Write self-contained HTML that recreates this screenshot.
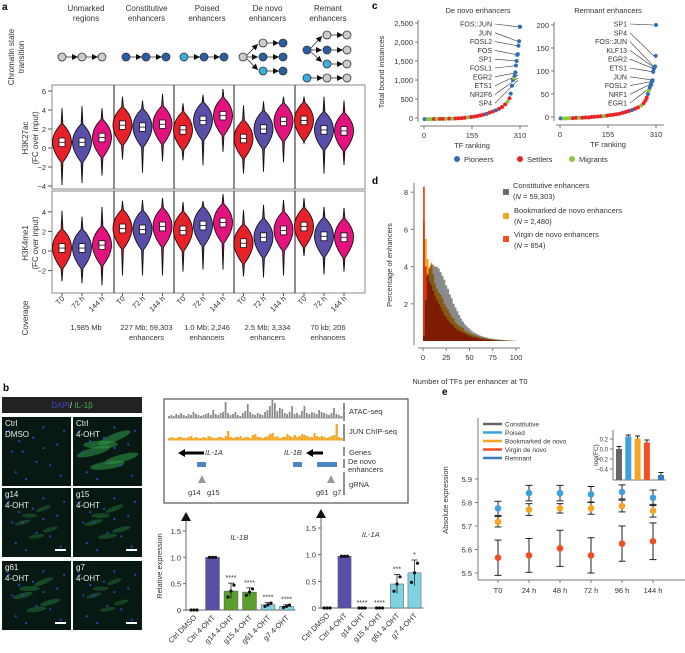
<!DOCTYPE html>
<html><head><meta charset="utf-8"><style>
body{margin:0;background:#fff}
svg{display:block;font-family:"Liberation Sans",Arial,sans-serif}
text{fill:#333}
</style></head><body>
<svg id="s" width="685" height="653" viewBox="0 0 685 653" xmlns="http://www.w3.org/2000/svg">
<g>
<text x="2" y="10" font-weight="bold" font-size="10" style="fill:#000">a</text>
<text transform="translate(14,57) rotate(-90)" text-anchor="middle" font-size="8">Chromatin state</text>
<text transform="translate(24,57) rotate(-90)" text-anchor="middle" font-size="8">transition</text>
<text transform="translate(28,138) rotate(-90)" text-anchor="middle" font-size="8">H3K27ac</text>
<text transform="translate(38,138) rotate(-90)" text-anchor="middle" font-size="8">(FC over input)</text>
<text transform="translate(28,243) rotate(-90)" text-anchor="middle" font-size="8">H3K4me1</text>
<text transform="translate(38,243) rotate(-90)" text-anchor="middle" font-size="8">(FC over input)</text>
<text transform="translate(28,318) rotate(-90)" font-size="8" text-anchor="middle">Coverage</text>
<g id="aHead" font-size="8" text-anchor="middle"></g>
<g id="aDiag"></g>
<rect x="52" y="85" width="313" height="104" fill="none" stroke="#888" stroke-width="1"/>
<rect x="52" y="191" width="313" height="102" fill="none" stroke="#888" stroke-width="1"/>
<g id="aSep" stroke="#444" stroke-width="1.2"></g>
<g id="aTicks" font-size="7.5" text-anchor="end"></g>
<g id="aViol"></g>
<g id="aXlab" font-size="7.5" text-anchor="end"></g>
<g id="aCov" font-size="7.5" text-anchor="middle"></g>
</g>

<g>
<text x="372" y="9" font-weight="bold" font-size="10" style="fill:#000">c</text>
<text x="478" y="13" font-size="7.5" text-anchor="middle">De novo enhancers</text>
<text x="608" y="13" font-size="7.5" text-anchor="middle">Remnant enhancers</text>
<text transform="translate(384,72) rotate(-90)" text-anchor="middle" font-size="7.5">Total bound instances</text>
<g id="cPlot"></g>
<g font-size="7.5">
<circle cx="457" cy="159" r="3" fill="#2f6db5"/><text x="464" y="162">Pioneers</text>
<circle cx="520" cy="159" r="3" fill="#e8262a"/><text x="527" y="162">Settlers</text>
<circle cx="572" cy="159" r="3" fill="#8dc63f"/><text x="579" y="162">Migrants</text>
</g>
</g>

<g>
<text x="372" y="184" font-weight="bold" font-size="10" style="fill:#000">d</text>
<text transform="translate(392,265) rotate(-90)" text-anchor="middle" font-size="7.5">Percentage of enhancers</text>
<g id="dPlot"></g>
<text x="470" y="384" font-size="7.5" text-anchor="middle">Number of TFs per enhancer at T0</text>
<g font-size="7.5">
<rect x="503" y="189" width="6" height="6" fill="#6e6e6e"/><text x="513" y="188">Constitutive enhancers</text><text x="513" y="199">(<tspan font-style="italic">N</tspan> = 59,303)</text>
<rect x="503" y="213" width="6" height="6" fill="#f5a623"/><text x="514" y="213">Bookmarked de novo enhancers</text><text x="514" y="224">(<tspan font-style="italic">N</tspan> = 2,480)</text>
<rect x="503" y="236" width="6" height="6" fill="#f04e23"/><text x="514" y="237">Virgin de novo enhancers</text><text x="514" y="248">(<tspan font-style="italic">N</tspan> = 854)</text>
</g>
</g>

<g>
<text x="3" y="391" font-weight="bold" font-size="10" style="fill:#000">b</text>
<rect x="2" y="397" width="140" height="16" fill="#222"/>
<text x="72" y="408" font-size="8" text-anchor="middle"><tspan style="fill:#3848c8">DAPI</tspan><tspan style="fill:#ddd">/ </tspan><tspan style="fill:#3fb34f">IL-1β</tspan></text>
<g id="bImg"></g>
<rect x="164" y="399" width="244" height="104" fill="#fff" stroke="#555" stroke-width="1.2"/>
<g id="bTracks"></g>
<line x1="344" y1="403" x2="344" y2="421" stroke="#222"/><line x1="344" y1="424" x2="344" y2="441" stroke="#222"/>
<line x1="344" y1="447" x2="344" y2="456" stroke="#222"/><line x1="344" y1="459" x2="344" y2="468" stroke="#222"/><line x1="344" y1="472" x2="344" y2="495" stroke="#222"/>
<g font-size="7.5">
<text x="349" y="414">ATAC-seq</text><text x="349" y="434">JUN ChIP-seq</text><text x="349" y="455">Genes</text>
<text x="348" y="464">De novo</text><text x="348" y="472">enhancers</text><text x="349" y="487">gRNA</text>
<text x="205" y="455" font-style="italic">IL-1A</text><text x="284" y="455" font-style="italic">IL-1B</text>
<text x="188" y="495">g14</text><text x="207" y="495">g15</text><text x="316" y="495">g61</text><text x="333" y="495">g7</text>
</g>
<polygon points="178,453 185,449 185,451.5 204,451.5 204,454.5 185,454.5 185,457" fill="#000"/>
<polygon points="306,453 313,449 313,451.5 323,451.5 323,454.5 313,454.5 313,457" fill="#000"/>
<rect x="197" y="462" width="9" height="5" fill="#4a86c8"/><rect x="293" y="462" width="9" height="5" fill="#4a86c8"/><rect x="317" y="462" width="20" height="5" fill="#4a86c8"/>
<polygon points="202,475 198,483 206,483" fill="#999"/><polygon points="331,475 327,483 335,483" fill="#999"/>
<text transform="translate(162,566) rotate(-90)" text-anchor="middle" font-size="7.5">Relative expression</text>
<g id="bBars"></g>
</g>

<g>
<text x="442" y="395" font-weight="bold" font-size="10" style="fill:#000">e</text>
<text transform="translate(448,500) rotate(-90)" text-anchor="middle" font-size="7.5">Absolute expression</text>
<g id="ePlot"></g>
<g font-size="6.5">
<line x1="483" y1="424" x2="502" y2="424" stroke="#666" stroke-width="2.5"/><text x="505" y="426.5">Constitutive</text>
<line x1="483" y1="432.5" x2="502" y2="432.5" stroke="#3fa0dc" stroke-width="2.5"/><text x="505" y="435">Poised</text>
<line x1="483" y1="441" x2="502" y2="441" stroke="#f5a623" stroke-width="2.5"/><text x="505" y="443.5">Bookmarked de novo</text>
<line x1="483" y1="449.5" x2="502" y2="449.5" stroke="#f04e23" stroke-width="2.5"/><text x="505" y="452">Virgin de novo</text>
<line x1="483" y1="458" x2="502" y2="458" stroke="#3a7cc4" stroke-width="2.5"/><text x="505" y="460.5">Remnant</text>
</g>
<g id="eInset"></g>
</g>
</svg>
<script>
const NS="http://www.w3.org/2000/svg";
function mk(tag,attrs,parent,txt){const e=document.createElementNS(NS,tag);for(const k in attrs)e.setAttribute(k,attrs[k]);if(txt!==undefined)e.textContent=txt;parent.appendChild(e);return e;}
const $=id=>document.getElementById(id);

// ---------- panel a data ----------
const aGroups=[["Unmarked","regions"],["Constitutive","enhancers"],["Poised","enhancers"],["De novo","enhancers"],["Remant","enhancers"]];
const aTimes=["T0","72 h","144 h"];
const ac_med=[[0.6,0.6,1.1],[2.4,2.2,2.5],[1.9,2.9,3.4],[1.0,2.0,2.8],[2.9,1.9,1.8]];
const ac_min=[[-3.9,-3.7,-2.9],[-1.2,-2.6,-1.4],[-1.3,-1.8,-0.4],[-2.7,-2.5,-1.5],[0.5,-2.7,-1.8]];
const ac_max=[[4.2,4.4,4.2],[5.4,5.0,5.7],[4.7,5.6,6.2],[4.5,4.9,5.4],[5.4,5.4,5.0]];
const me_med=[[0.3,0.3,0.6],[2.3,2.2,2.5],[2.1,2.6,2.9],[0.8,1.4,2.1],[2.5,1.5,1.4]];
const me_min=[[-3.1,-3.3,-3.5],[-2.5,-2.5,-2.5],[-2.1,-1.9,-1.9],[-2.6,-2.7,-2.5],[-0.5,-2.4,-2.1]];
const me_max=[[4.1,3.5,4.5],[5.1,5.2,5.4],[5.0,5.1,5.8],[4.2,4.7,5.2],[5.4,4.5,4.4]];
const aCov=[["1,985 Mb",""],["227 Mb; 59,303","enhancers"],["1.0 Mb; 2,246","enhancers"],["2.5 Mb; 3,334","enhancers"],["70 kb; 206","enhancers"]];
const acTicks=[-4,-2,0,2,4,6], meTicks=[-2,0,2,4];
const vColors=["#e8202a","#5a4fa8","#e4127f"];

const grpX=g=>82+g*60.5, subX=(g,t)=>grpX(g)+(t-1)*20;
const yAc=v=>148-v*9.5, yMe=v=>251-v*9.8;

aGroups.forEach((w,i)=>{
 let t=mk("text",{x:grpX(i)+4,y:11},$("aHead"),w[0]);
 
 mk("text",{x:grpX(i)+4,y:21},$("aHead"),w[1]);
 mk("text",{x:grpX(i)+4,y:330},$("aCov"),aCov[i][0]);mk("text",{x:grpX(i)+4,y:340},$("aCov"),aCov[i][1]);
});
[114,174,234,295].forEach(x=>{mk("line",{x1:x,y1:85,x2:x,y2:189},$("aSep"));mk("line",{x1:x,y1:191,x2:x,y2:293},$("aSep"));});
acTicks.forEach(v=>{mk("text",{x:46,y:yAc(v)+3},$("aTicks"),v<0?"−"+(-v):v);mk("line",{x1:48,x2:52,y1:yAc(v),y2:yAc(v),stroke:"#555"},$("aTicks"));});
meTicks.forEach(v=>{mk("text",{x:46,y:yMe(v)+3},$("aTicks"),v<0?"−"+(-v):v);mk("line",{x1:48,x2:52,y1:yMe(v),y2:yMe(v),stroke:"#555"},$("aTicks"));});

// diagrams
const gray="#ccc",dk="#2a5fa8",lb="#3aaee0";
function circ(x,y,c){mk("circle",{cx:x,cy:y,r:4,fill:c,stroke:"#333","stroke-width":0.8},$("aDiag"));}
function arr(x1,y1,x2,y2){mk("line",{x1,y1,x2,y2,stroke:"#333","stroke-width":0.8},$("aDiag"));const a=Math.atan2(y2-y1,x2-x1);mk("polygon",{points:`${x2},${y2} ${x2-6*Math.cos(a)+3*Math.sin(a)},${y2-6*Math.sin(a)-3*Math.cos(a)} ${x2-6*Math.cos(a)-3*Math.sin(a)},${y2-6*Math.sin(a)+3*Math.cos(a)}`,fill:"#111"},$("aDiag"));}
function chain(x,y,cs){cs.forEach((c,k)=>{if(k)arr(x+(k-1)*20+4,y,x+k*20-4,y);circ(x+k*20,y,c);});}
chain(62,57,[gray,gray,gray]);chain(126,57,[dk,dk,dk]);chain(184,57,[lb,dk,dk]);
circ(243,57,gray);arr(247,55,258,44);arr(247,57,258,57);arr(247,59,258,70);
chain(263,43,[gray,dk]);chain(263,57,[dk,dk]);chain(263,71,[lb,dk]);
circ(307,50,dk);arr(311,48,322,36);arr(311,50,322,50);arr(311,52,322,62);
chain(327,35,[gray,gray]);chain(327,50,[dk,gray]);chain(327,64,[lb,gray]);chain(307,78,[lb,gray,gray]);

function violin(cx,med,mn,mx,ys,col){
 const w=9.5;const p=`M${cx},${ys(mx)} L${cx+0.9},${ys(med+1.9)} Q${cx+w},${ys(med+1.0)} ${cx+w},${ys(med)} Q${cx+w},${ys(med-0.9)} ${cx+0.9},${ys(med-2.1)} L${cx},${ys(mn)} L${cx-0.9},${ys(med-2.1)} Q${cx-w},${ys(med-0.9)} ${cx-w},${ys(med)} Q${cx-w},${ys(med+1.0)} ${cx-0.9},${ys(med+1.9)} Z`;
 const v=mk("path",{d:p,fill:col,stroke:"#111","stroke-width":0.9},$("aViol"));
 
 mk("rect",{x:cx-3,y:ys(med+0.45),width:6,height:ys(med-0.45)-ys(med+0.45),fill:"#fff",stroke:"#111","stroke-width":0.8},$("aViol"));
 mk("line",{x1:cx-3,x2:cx+3,y1:ys(med),y2:ys(med),stroke:"#111","stroke-width":0.8},$("aViol"));
}
for(let g=0;g<5;g++)for(let t=0;t<3;t++){
 violin(subX(g,t),ac_med[g][t],ac_min[g][t],ac_max[g][t],yAc,vColors[t]);
 violin(subX(g,t),me_med[g][t],me_min[g][t],me_max[g][t],yMe,vColors[t]);
 mk("text",{x:subX(g,t)+3,y:299,transform:`rotate(-45 ${subX(g,t)+3} 299)`},$("aXlab"),aTimes[t]);
 mk("line",{x1:subX(g,t),x2:subX(g,t),y1:293,y2:296,stroke:"#555"},$("aXlab"));
}

// ---------- panel c ----------
const cRanks=[2,12,22,32,42,52,62,72,82,92,102,112,122,132,142,152,162,172,182,192,202,212,222,232,242,252,262,270,276,280,284,287,290,293,295,297,299,301,303,305,307,309,310];
const cDeNovo=[-30,-30,-28,-26,-25,-24,-22,-20,-18,-15,-12,-8,-3,5,15,25,35,50,70,90,110,140,170,200,240,290,360,430,520,640,850,1000,1060,1120,1200,1380,1500,1660,1680,1900,2020,2400,2400];
const cDeNovoCat=[0,2,2,1,2,1,1,2,1,2,1,1,1,1,2,1,1,1,1,1,0,1,1,0,1,1,1,2,1,0,0,0,2,0,0,0,0,0,0,0,0,0,0];
const cRemnant=[-3,-3,-3,-2.5,-2.5,-2,-2,-1.5,-1,-1,0,0.5,1,1.5,2,3,4,5,6,7,9,11,13,15,18,21,25,30,36,42,50,58,64,70,75,78,80,98,105,108,110,133,200];
const cRemnantCat=[0,2,2,2,1,1,2,1,1,1,1,1,1,1,2,1,1,1,1,1,1,1,1,0,1,1,2,1,1,1,0,2,0,0,0,0,0,0,0,0,0,0,0];
const cColors=["#2f6db5","#e8262a","#8dc63f"];
const cXTicks=[0,155,310];
const cLeftTicks=[0,500,1000,1500,2000,2500], cRightTicks=[0,50,100,150,200];
const cLeftLabels=["FOS::JUN","JUN","FOSL2","FOS","SP1","FOSL1","EGR2","ETS1","NR2F6","SP4"];
const cLeftLabelVals=[2400,2020,1900,1660,1500,1380,1200,1120,1050,990];
const cRightLabels=["SP1","SP4","FOS::JUN","KLF13","EGR2","ETS1","JUN","FOSL2","NRF1","EGR1"];
const cRightLabelVals=[200,133,110,108,105,98,80,78,75,70];
function cPanel(x0,x1,yTop,maxV,yZero,ticks,vals,cats,labels,lvals,labX){
 const g=$("cPlot");const sx=r=>x0+(x1-x0)*r/310, sy=v=>yZero-(yZero-yTop)*v/maxV;
 mk("line",{x1:x0-6,y1:yTop-3,x2:x0-6,y2:yZero+4,stroke:"#777"},g);
 mk("line",{x1:x0-4,y1:yZero+8,x2:x1+8,y2:yZero+8,stroke:"#777"},g);
 ticks.forEach(v=>{mk("line",{x1:x0-9,x2:x0-6,y1:sy(v),y2:sy(v),stroke:"#777"},g);mk("text",{x:x0-11,y:sy(v)+3,"font-size":7.5,"text-anchor":"end"},g,v.toLocaleString("en-US"));});
 cXTicks.forEach(v=>{mk("line",{x1:sx(v),x2:sx(v),y1:yZero+8,y2:yZero+11,stroke:"#777"},g);mk("text",{x:sx(v),y:yZero+20,"font-size":7.5,"text-anchor":"middle"},g,v);});
 mk("text",{x:(x0+x1)/2,y:yZero+30,"font-size":7.5,"text-anchor":"middle"},g,"TF ranking");
 labels.forEach((l,i)=>{const ly=24+i*8.8;mk("text",{x:labX,y:ly+2.5,"font-size":7,"text-anchor":"end"},g,l);
  mk("line",{x1:labX+3,y1:ly,x2:sx(309)-2,y2:sy(lvals[i]),stroke:"#333","stroke-width":0.6},g);});
 vals.forEach((v,i)=>{const c=mk("circle",{cx:sx(cRanks[i]),cy:sy(v),r:2,fill:cColors[cats[i]]},g);
  });
}
cPanel(424,520,23,2500,118,cLeftTicks,cDeNovo,cDeNovoCat,cLeftLabels,cLeftLabelVals,492);
cPanel(560,656,25,200,117,cRightTicks,cRemnant,cRemnantCat,cRightLabels,cRightLabelVals,627);

// ---------- panel d ----------
const dConst=[0.3,2.2,3.6,3.9,4.1,4.1,4.0,4.0,3.9,3.7,3.5,3.3,3.0,2.8,2.5,2.3,2.0,1.8,1.6,1.4,1.2,1.05,0.9,0.8,0.7,0.6,0.52,0.45,0.4,0.35,0.3,0.26,0.23,0.2,0.18,0.15,0.13,0.12,0.1,0.09,0.08,0.07,0.06,0.05,0.05,0.04,0.03,0.03,0.02,0.02];
const dBook=[6.4,5.5,4.4,4.0,4.2,3.6,3.1,2.8,2.6,2.5,2.3,2.0,1.8,1.7,1.5,1.3,1.2,1.0,0.9,0.8,0.75,0.7,0.55,0.5,0.45,0.4,0.35,0.3,0.28,0.25,0.22,0.2,0.18,0.15,0.12,0.1,0.1,0.08,0.07,0.06,0.05,0.05,0.04,0.03,0.03,0.02,0.02,0.02,0.01,0.01];
const dVirgin=[8.3,4.0,3.5,3.2,3.0,2.7,2.4,2.2,2.0,1.8,1.6,1.4,1.3,1.1,1.0,0.9,0.8,0.7,0.6,0.55,0.5,0.45,0.4,0.35,0.3,0.25,0.22,0.2,0.18,0.15,0.12,0.1,0.1,0.08,0.07,0.06,0.05,0.04,0.04,0.03,0.03,0.02,0.02,0.02,0.01,0.01,0.01,0.01,0.0,0.0];
const dXTicks=[0,25,50,75,100], dYTicks=[2,4,6,8];
const dBin=2;
(function(){const g=$("dPlot");const sx=v=>423+v*0.93, sy=v=>341-v*18.6;
 function hist(arr,col,blend,name){let d=`M${sx(0)},${sy(0)}`;arr.forEach((v,i)=>{d+=` L${sx(i*dBin)},${sy(v)} L${sx((i+1)*dBin)},${sy(v)}`;});d+=` L${sx(arr.length*dBin)},${sy(0)} Z`;
  const p=mk("path",{d,fill:col,style:blend?"mix-blend-mode:multiply":""},g);}
 hist(dConst,"#8a8a8a",false,"hist-constitutive");hist(dBook,"#f5a623",true,"hist-bookmarked");hist(dVirgin,"#f04e23",true,"hist-virgin");
 mk("line",{x1:414,y1:183,x2:414,y2:345,stroke:"#777"},g);mk("line",{x1:418,y1:348,x2:520,y2:348,stroke:"#777"},g);
 dYTicks.forEach(v=>{mk("line",{x1:411,x2:414,y1:sy(v),y2:sy(v),stroke:"#777"},g);mk("text",{x:408,y:sy(v)+3,"font-size":7.5,"text-anchor":"end"},g,v);});
 dXTicks.forEach(v=>{mk("line",{x1:sx(v),x2:sx(v),y1:348,y2:351,stroke:"#777"},g);mk("text",{x:sx(v),y:360,"font-size":7.5,"text-anchor":"middle"},g,v);});
})();

// ---------- panel b ----------
const atacH=[2,3,2,4,3,5,3,2,4,3,6,4,3,2,3,4,5,3,8,4,3,5,6,16,5,3,4,6,3,2,5,7,14,6,4,3,5,4,3,6,8,12,18,15,7,10,9,5,4,6,12,4,5,3,7,12,5,4,6,5,4,8,6,5,4,3,5,10,4,3,2];
const junH=[2,3,2,2,3,3,2,2,3,4,2,3,2,2,3,2,4,3,2,2,3,3,2,4,9,3,2,3,3,4,2,3,3,2,5,6,3,3,2,3,4,6,7,3,4,2,3,3,6,4,3,5,3,4,6,5,4,3,3,7,4,3,4,3,2,3,4,5,16,3,2];
(function(){const g=$("bTracks");const n=atacH.length,dx=(343-168)/n;
 mk("line",{x1:168,x2:343,y1:418,y2:418,stroke:"#888","stroke-width":0.8},g);mk("line",{x1:168,x2:343,y1:440,y2:440,stroke:"#f5a623","stroke-width":1},g);
 atacH.forEach((h,i)=>{mk("rect",{x:168+i*dx,y:418-h,width:dx*0.7,height:h,fill:"#888"},g);});
 junH.forEach((h,i)=>{mk("rect",{x:168+i*dx,y:440-h,width:dx*0.9,height:h,fill:"#f5a623"},g);});
})();
const bImgs=[["Ctrl","DMSO",0.0,false],["Ctrl","4-OHT",0.9,false],["g14","4-OHT",0.3,true],["g15","4-OHT",0.4,true],["g61","4-OHT",0.45,true],["g7","4-OHT",0.3,true]];
(function(){const g=$("bImg");const xs=[2,73],ys=[417,488,561];
 const cells=[[0.3,0.5,0.5],[0.6,0.3,0.4],[0.5,0.7,0.6],[0.7,0.6,0.5],[0.4,0.4,0.7]];
 const dots=[[0.1,0.2],[0.3,0.5],[0.6,0.15],[0.8,0.4],[0.2,0.8],[0.5,0.65],[0.85,0.85],[0.45,0.3],[0.7,0.7],[0.15,0.5],[0.9,0.2],[0.35,0.9],[0.6,0.45],[0.25,0.35]];
 bImgs.forEach((im,i)=>{const x=xs[i%2],y=ys[Math.floor(i/2)];
  const r=mk("rect",{x,y,width:69,height:69,fill:"#081812"},g);
  if(im[2]>0)cells.forEach(c=>{mk("ellipse",{cx:x+c[0]*69,cy:y+c[1]*69,rx:16*im[2]+3,ry:3*im[2]+1.2,fill:"#2e9a48",opacity:0.2+0.4*im[2],transform:`rotate(${-50+c[2]*70} ${x+c[0]*69} ${y+c[1]*69})`},g);});
  dots.forEach(d=>mk("circle",{cx:x+d[0]*69,cy:y+d[1]*69,r:1.1,fill:"#3040c0"},g));
  mk("text",{x:x+3,y:y+9,"font-size":8,style:"fill:#eee"},g,im[0]);mk("text",{x:x+3,y:y+20,"font-size":8,style:"fill:#eee"},g,im[1]);
  if(im[3])mk("rect",{x:x+53,y:y+61,width:11,height:2,fill:"#fff"},g);
 });
})();
const bCats=["Ctrl DMSO","Ctrl 4-OHT","g14 4-OHT","g15 4-OHT","g61 4-OHT","g7 4-OHT"];
const bCatsA=["Ctrl DMSO","Ctrl 4-OHT","g14 OHT","g15 4-OHT","g61 4-OHT","g7 4-OHT"];
const il1b=[0,1.0,0.36,0.34,0.1,0.07], il1bErr=[0,0,0.15,0.08,0.04,0.03], il1bStars=["","","****","****","****","****"];
const il1a=[0,0.97,0,0,0.45,0.66], il1aErr=[0,0,0,0,0.18,0.24], il1aStars=["","","****","****","***","*"];
const bFill=["#fff","#5a4fa8","#5aa02c","#5aa02c","#7fd3e0","#7fd3e0"];
const bYTicks=[0,0.5,1.0,1.5];
function barChart(ax,y0,y15,vals,errs,stars,cats,title,x0,step){
 const g=$("bBars");const sy=v=>y0-(y0-y15)*v/1.5, sx=i=>x0+i*step;
 mk("line",{x1:ax,y1:y0+1,x2:ax,y2:y15-12,stroke:"#666"},g);mk("polygon",{points:`${ax},${y15-19} ${ax-5},${y15-10} ${ax+5},${y15-10}`,fill:"#111"},g);
 mk("line",{x1:ax,y1:y0,x2:sx(5)+9,y2:y0,stroke:"#666"},g);
 bYTicks.forEach(v=>{mk("line",{x1:ax-3,x2:ax,y1:sy(v),y2:sy(v),stroke:"#666"},g);mk("text",{x:ax-5,y:sy(v)+3,"font-size":7.5,"text-anchor":"end"},g,v===0?"0":v.toFixed(1));});
 mk("text",{x:(ax+sx(5))/2+3,y:y15+9,"font-size":7.5,"font-style":"italic","text-anchor":"middle"},g,title);
 vals.forEach((v,i)=>{const bw=step*0.75,cx=sx(i);
  const r=mk("rect",{x:cx-bw/2,y:sy(v),width:bw,height:y0-sy(v),fill:bFill[i],stroke:"#555","stroke-width":0.5},g);
  
  if(errs[i]>0){mk("line",{x1:cx,x2:cx,y1:sy(v+errs[i]),y2:sy(Math.max(0,v-errs[i])),stroke:"#222","stroke-width":0.8},g);
   mk("line",{x1:cx-3,x2:cx+3,y1:sy(v+errs[i]),y2:sy(v+errs[i]),stroke:"#222","stroke-width":0.8},g);}
  [-3,0,3].forEach(d=>mk("circle",{cx:cx+d,cy:sy(v+d*errs[i]/4),r:1.6,fill:"#111"},g));
  if(stars[i])mk("text",{x:cx,y:sy(v+errs[i])-3,"font-size":7,"text-anchor":"middle"},g,stars[i]);
  mk("text",{x:cx+3,y:y0+8,"font-size":7.5,"text-anchor":"end",transform:`rotate(-45 ${cx+3} ${y0+8})`},g,cats[i]);
 });
}
barChart(186,610,531,il1b,il1bErr,il1bStars,bCats,"IL-1B",194,18.5);
barChart(321,608,528,il1a,il1aErr,il1aStars,bCatsA,"IL-1A",327,17.5);

// ---------- panel e ----------
const eTimes=["T0","24 h","48 h","72 h","96 h","144 h"];
const ePoised=[5.775,5.84,5.84,5.835,5.845,5.82];
const eBook=[5.718,5.77,5.775,5.775,5.785,5.765];
const eVirgin=[5.565,5.575,5.605,5.575,5.625,5.635];
const ePoisedErr=[0.03,0.033,0.033,0.033,0.03,0.033];
const eBookErr=[0.022,0.025,0.02,0.025,0.025,0.027];
const eVirginErr=[0.075,0.072,0.077,0.075,0.075,0.078];
const eYTicks=[5.5,5.6,5.7,5.8,5.9];
const insetVals=[0.0,0.25,0.21,0.13,-0.52], insetErr=[0.05,0.03,0.05,0.05,0.05];
const insetCols=["#666","#3fa0dc","#f5a623","#f04e23","#3a7cc4"], insetTicks=[-0.4,-0.2,0.0,0.2];
(function(){const g=$("ePlot");const sy=v=>479-(v-5.9)*235, sx=i=>498+i*31;
 mk("line",{x1:478,y1:418,x2:478,y2:580,stroke:"#777"},g);mk("line",{x1:478,y1:580,x2:685,y2:580,stroke:"#777"},g);
 eYTicks.forEach(v=>{mk("line",{x1:475,x2:478,y1:sy(v),y2:sy(v),stroke:"#777"},g);mk("text",{x:472,y:sy(v)+3,"font-size":7.5,"text-anchor":"end"},g,v.toFixed(1));});
 eTimes.forEach((t,i)=>{mk("line",{x1:sx(i),x2:sx(i),y1:580,y2:583,stroke:"#777"},g);mk("text",{x:sx(i),y:593,"font-size":7.5,"text-anchor":"middle"},g,t);});
 function series(vals,errs,col,name){vals.forEach((v,i)=>{const x=sx(i);const a=v+errs[i],b=v-errs[i];
  mk("line",{x1:x,x2:x,y1:sy(a),y2:sy(b),stroke:"#222","stroke-width":1},g);
  mk("line",{x1:x-3.5,x2:x+3.5,y1:sy(a),y2:sy(a),stroke:"#222","stroke-width":1},g);mk("line",{x1:x-3.5,x2:x+3.5,y1:sy(b),y2:sy(b),stroke:"#222","stroke-width":1},g);
  const c=mk("circle",{cx:x,cy:sy(v),r:3.3,fill:col},g);});}
 series(eVirgin,eVirginErr,"#f04e23","virgin-point");series(eBook,eBookErr,"#f5a623","bookmarked-point");series(ePoised,ePoisedErr,"#3fa0dc","poised-point");
 const h=$("eInset");const iy=v=>449-v*50, ix=i=>619+i*9.3;
 mk("line",{x1:613,y1:430,x2:613,y2:480,stroke:"#777"},h);mk("line",{x1:613,y1:480,x2:666,y2:480,stroke:"#777"},h);
 insetTicks.forEach(v=>{mk("line",{x1:610,x2:613,y1:iy(v),y2:iy(v),stroke:"#777"},h);mk("text",{x:608,y:iy(v)+2.5,"font-size":6,"text-anchor":"end"},h,(v<0?"−":"")+Math.abs(v).toFixed(1));});
 mk("text",{x:598,y:455,"font-size":6.5,"text-anchor":"middle",transform:"rotate(-90 598 455)"},h,"log(FC)");
 insetVals.forEach((v,i)=>{const x=i<4?ix(i):661;const top=iy(v);
  const r=mk("rect",{x:x-3,y:top,width:6,height:480-top,fill:insetCols[i]},h);
  mk("line",{x1:x-2.5,x2:x+2.5,y1:iy(v+insetErr[i]),y2:iy(v+insetErr[i]),stroke:"#222"},h);mk("line",{x1:x,x2:x,y1:iy(v+insetErr[i]),y2:top,stroke:"#222"},h);});
})();
</script>
</body></html>
